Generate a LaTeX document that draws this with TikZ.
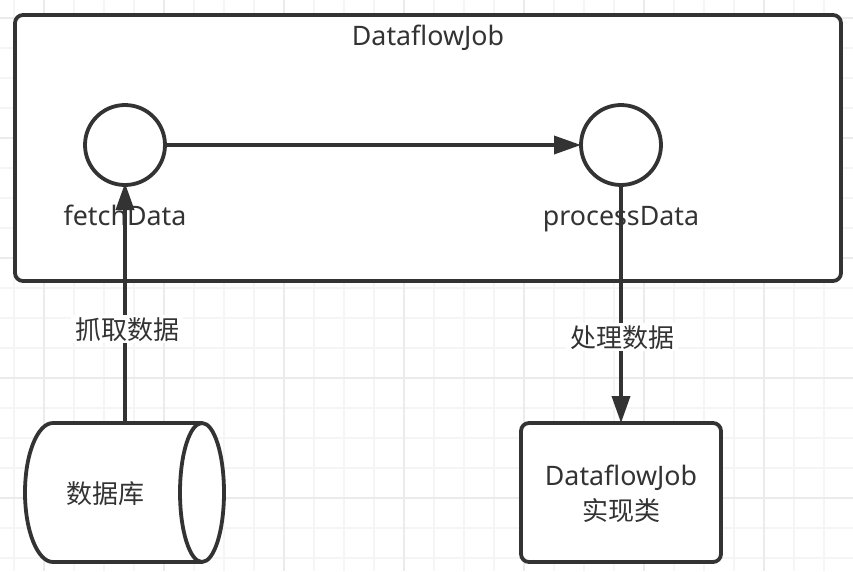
\documentclass[tikz,border=0pt]{standalone}
\usepackage{fontspec}
\setmainfont{Noto Sans}
\newfontfamily\cjk{Noto Sans CJK SC}
\usetikzlibrary{arrows.meta}
\definecolor{ink}{HTML}{333333}
\definecolor{gridlo}{HTML}{F5F5F5}
\definecolor{gridhi}{HTML}{EBEBEB}
\tikzset{
  shapeline/.style={draw=ink,line width=3.8pt,fill=white,inner sep=0pt,outer sep=0pt},
  roundbox/.style={shapeline,rectangle,rounded corners=8pt},
  hub/.style={shapeline,circle,minimum size=80pt},
  storeframe/.style={rectangle,inner sep=0pt,outer sep=0pt,minimum width=199pt,minimum height=139pt},
  textlabel/.style={text=ink,font=\fontsize{26.8}{34}\selectfont,inner sep=0pt,align=center},
  cjklabel/.style={text=ink,font=\cjk\fontsize{26}{34}\selectfont,inner sep=0pt,align=center},
  flowlabel/.style={cjklabel,fill=white,inner xsep=4pt,inner ysep=2pt},
  link/.style={draw=ink,line width=3.6pt,-{Triangle[width=18pt,length=27pt]}},
}
\begin{document}
\begin{tikzpicture}[x=1pt,y=-1pt]
\useasboundingbox (0,0) rectangle (853,571);
\fill[white] (0,0) rectangle (853,571);
\foreach \g in {14,74,104,134,194,224,254,314,344,374,434,464,494,554,584,614,674,704,734,794,824}
  \draw[gridlo,line width=1.4pt] (\g,0) -- (\g,571);
\foreach \g in {48,78,108,168,198,228,288,318,348,408,438,468,528,558}
  \draw[gridlo,line width=1.4pt] (0,\g) -- (853,\g);
\foreach \g in {44,164,284,404,524,644,764}
  \draw[gridhi,line width=1.4pt] (\g,0) -- (\g,571);
\foreach \g in {18,138,258,378,498}
  \draw[gridhi,line width=1.4pt] (0,\g) -- (853,\g);

\node[roundbox,minimum width=826pt,minimum height=266pt] (job) at (428,148) {};
\node[textlabel] (jobt) at (428,38) {DataflowJob};
\node[hub] (fetch) at (125,145) {};
\node[hub] (process) at (621,145) {};
\node[textlabel] (fetcht) at (125,215) {fetchData};
\node[textlabel] (processt) at (621,219.500) {processData};

\node[storeframe] (db) at (124.500,492.500) {};
\draw[shapeline] ([xshift=28pt]db.north west)
  arc[start angle=90,end angle=270,x radius=28pt,y radius=69.5pt]
  -- ([xshift=-22pt]db.south east)
  arc[start angle=-90,end angle=90,x radius=22pt,y radius=69.5pt]
  -- cycle;
\draw[shapeline,fill=none] ([xshift=-22pt]db.north east)
  arc[start angle=90,end angle=270,x radius=22pt,y radius=69.5pt];
\node[cjklabel] (dbt) at (105,494) {数据库};

\node[roundbox,minimum width=200pt,minimum height=139pt] (impl) at (621,492.500) {};
\node[textlabel] (implt) at (621,478) {DataflowJob};
\node[cjklabel] (implc) at (621,511) {实现类};

\draw[link] (fetch) -- (process);
\draw[link] (fetch.south |- db.north) -- node[flowlabel,pos=0.39,xshift=2pt] (fetchl) {抓取数据} ([yshift=2pt]fetch.south);
\draw[link] (process) -- node[flowlabel,pos=0.64,xshift=1pt] (processl) {处理数据} (impl);
\end{tikzpicture}
\end{document}
